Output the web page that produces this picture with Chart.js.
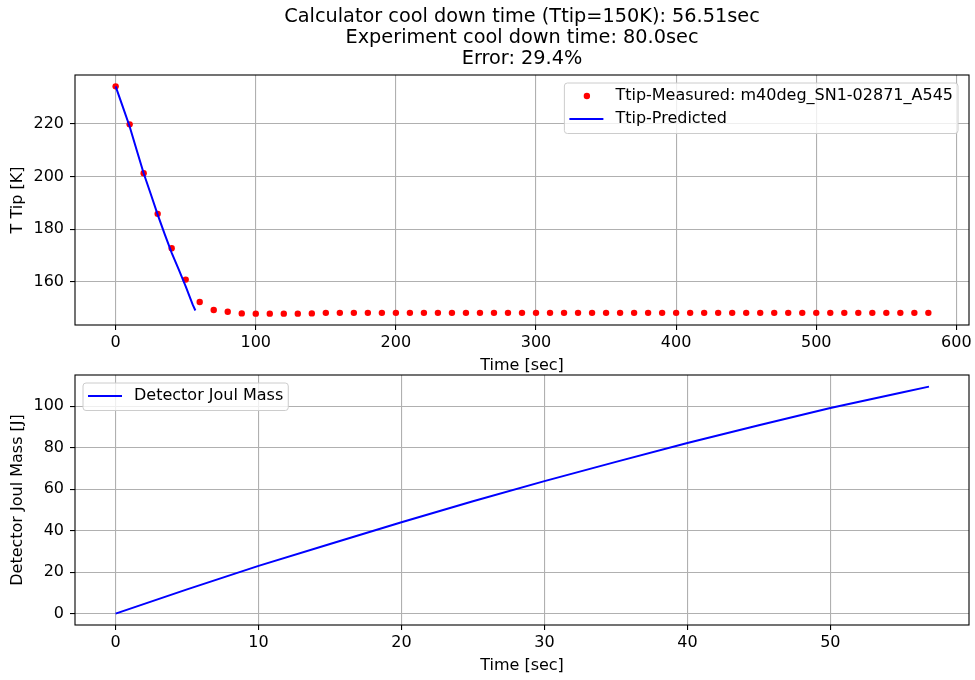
<!DOCTYPE html>
<html>
<head>
<meta charset="utf-8">
<title>Cool down</title>
<script src="https://cdn.jsdelivr.net/npm/chart.js@4.4.0/dist/chart.umd.min.js"></script>
<style>
  html, body { margin: 0; padding: 0; background: #fff; }
  #page { position: relative; width: 975px; height: 680px; overflow: hidden; }
  .panel { position: absolute; left: 0; width: 975px; }
  #top-panel { top: 0; height: 378px; }
  #bottom-panel { top: 325px; height: 355px; }
</style>
</head>
<body>
<div id="page">
  <div class="panel" id="top-panel"><canvas id="tipChart"></canvas></div>
  <div class="panel" id="bottom-panel"><canvas id="joulChart"></canvas></div>
</div>
<script>
// --- data ---
const titleLines = [
  "Calculator cool down time (Ttip=150K): 56.51sec",
  "Experiment cool down time: 80.0sec",
  "Error: 29.4%",
];

const measuredLabel = "Ttip-Measured: m40deg_SN1-02871_A545";
const measuredTime = [
  0, 10, 20, 30, 40, 50, 60, 70, 80, 90, 100, 110, 120, 130, 140,
  150, 160, 170, 180, 190, 200, 210, 220, 230, 240, 250, 260, 270, 280, 290,
  300, 310, 320, 330, 340, 350, 360, 370, 380, 390, 400, 410, 420, 430, 440,
  450, 460, 470, 480, 490, 500, 510, 520, 530, 540, 550, 560, 570, 580,
];
const measuredTemp = [
  234.1, 219.7, 201.2, 185.8, 172.8, 160.9, 152.4, 149.4, 148.7, 148.1, 148.0, 148.0, 148.0, 148.0, 148.1,
  148.3, 148.3, 148.3, 148.3, 148.3, 148.3, 148.3, 148.3, 148.3, 148.3, 148.3, 148.3, 148.3, 148.3, 148.3,
  148.3, 148.3, 148.3, 148.3, 148.3, 148.3, 148.3, 148.3, 148.3, 148.3, 148.3, 148.3, 148.3, 148.3, 148.3,
  148.3, 148.3, 148.3, 148.3, 148.3, 148.3, 148.3, 148.3, 148.3, 148.3, 148.3, 148.3, 148.3, 148.3,
];

const predictedLabel = "Ttip-Predicted";
const predictedTime = [0, 5, 10, 15, 20, 25, 30, 35, 40, 45, 50, 55, 56.9];
const predictedTemp = [234.1, 226.5, 218.9, 210.0, 201.2, 193.4, 185.5, 178.1, 171.0, 164.8, 158.3, 151.4, 149.2];

const joulLabel = "Detector Joul Mass";
const joulTime = [0, 5, 10, 15, 20, 25, 30, 35, 40, 45, 50, 55, 56.9];
const joulMass = [0, 11.7, 23.0, 33.6, 44.1, 54.2, 63.9, 73.2, 82.3, 90.9, 99.2, 106.7, 109.5];

const tipXTicks = [0, 100, 200, 300, 400, 500, 600];
const tipYTicks = [160, 180, 200, 220];
const joulXTicks = [0, 10, 20, 30, 40, 50];
const joulYTicks = [0, 20, 40, 60, 80, 100];

// --- look ---
const FONT = "DejaVu Sans";
const FONT_SIZE = 16;
const tickFont = { family: FONT, size: FONT_SIZE, lineHeight: 1.2 };

const toPoints = (xs, ys) => xs.map((x, i) => ({ x: x, y: ys[i] }));

// frame round the plot area, like matplotlib spines
const framePlugin = {
  id: "frame",
  afterDatasetsDraw(chart) {
    const { ctx, chartArea: a } = chart;
    ctx.save();
    ctx.strokeStyle = "#000";
    ctx.lineWidth = 1.1;
    ctx.strokeRect(a.left, a.top, a.right - a.left, a.bottom - a.top);
    ctx.restore();
  },
};

// legend drawn inside the plot area
const boxLegendPlugin = {
  id: "boxLegend",
  afterDraw(chart, args, opts) {
    if (!opts.items) return;
    const { ctx, chartArea: a } = chart;
    ctx.save();
    ctx.font = `${FONT_SIZE}px "${FONT}"`;
    const labels = opts.items.map((it) => chart.data.datasets[it.dataset].label);
    const textW = Math.max(...labels.map((l) => ctx.measureText(l).width));
    const w = 5 + 46 + textW + 5;
    const h = 27.5 + 23 * (opts.items.length - 1);
    const x = opts.corner === "ne" ? a.right - 11 - w : a.left + 8;
    const y = a.top + 8;

    ctx.beginPath();
    ctx.roundRect(x, y, w, h, 3);
    ctx.fillStyle = "rgba(255,255,255,0.8)";
    ctx.fill();
    ctx.strokeStyle = "#cccccc";
    ctx.lineWidth = 1;
    ctx.stroke();

    opts.items.forEach((it, i) => {
      const ds = chart.data.datasets[it.dataset];
      const cy = y + 13 + 23 * i;
      if (it.kind === "point") {
        ctx.beginPath();
        ctx.arc(x + 22.5, cy, 3.2, 0, Math.PI * 2);
        ctx.fillStyle = ds.backgroundColor;
        ctx.fill();
      } else {
        ctx.beginPath();
        ctx.moveTo(x + 5, cy);
        ctx.lineTo(x + 39, cy);
        ctx.strokeStyle = ds.borderColor;
        ctx.lineWidth = 2;
        ctx.stroke();
      }
      ctx.fillStyle = "#000";
      ctx.textBaseline = "middle";
      ctx.textAlign = "left";
      ctx.fillText(labels[i], x + 51, cy);
    });
    ctx.restore();
  },
};

function axis(min, max, ticks, title, isX) {
  return {
    type: "linear",
    min: min,
    max: max,
    afterBuildTicks: (scale) => {
      scale.ticks = ticks.map((v) => ({ value: v }));
    },
    afterFit: (scale) => {
      if (isX) scale.height = 53;
      else scale.width = 75;
    },
    grid: {
      color: "#b0b0b0",
      lineWidth: 1.1,
      tickLength: 5,
      tickColor: "#000",
      tickWidth: 1.1,
    },
    border: { display: false },
    ticks: {
      color: "#000",
      font: tickFont,
      padding: isX ? 3 : 6,
      maxRotation: 0,
      autoSkip: false,
      callback: (v) => String(v),
    },
    title: {
      display: true,
      text: title,
      color: "#000",
      font: tickFont,
      padding: isX ? { top: 0, bottom: 3 } : { top: 8, bottom: 0 },
    },
  };
}

const baseOptions = {
  responsive: true,
  maintainAspectRatio: false,
  animation: false,
  events: [],
};

new Chart(document.getElementById("tipChart"), {
  type: "scatter",
  data: {
    datasets: [
      {
        label: predictedLabel,
        data: toPoints(predictedTime, predictedTemp),
        showLine: true,
        borderColor: "#0000ff",
        borderWidth: 2,
        pointRadius: 0,
        tension: 0,
        order: 0,
      },
      {
        label: measuredLabel,
        data: toPoints(measuredTime, measuredTemp),
        backgroundColor: "#ff0000",
        borderWidth: 0,
        pointRadius: 3.2,
        order: 1,
      },
    ],
  },
  options: {
    ...baseOptions,
    layout: { padding: { left: 0, right: 6, top: 0, bottom: 0 } },
    scales: {
      x: axis(-29, 609, tipXTicks, "Time [sec]", true),
      y: axis(143.7, 238.4, tipYTicks, "T Tip [K]", false),
    },
    plugins: {
      legend: { display: false },
      tooltip: { enabled: false },
      title: {
        display: true,
        text: titleLines,
        fullSize: false,
        color: "#000",
        font: { family: FONT, size: 19.3, weight: "normal", lineHeight: "21px" },
        padding: { top: 6.5, bottom: 5.5 },
      },
      boxLegend: {
        corner: "ne",
        items: [
          { dataset: 1, kind: "point" },
          { dataset: 0, kind: "line" },
        ],
      },
    },
  },
  plugins: [framePlugin, boxLegendPlugin],
});

new Chart(document.getElementById("joulChart"), {
  type: "scatter",
  data: {
    datasets: [
      {
        label: joulLabel,
        data: toPoints(joulTime, joulMass),
        showLine: true,
        borderColor: "#0000ff",
        borderWidth: 2,
        pointRadius: 0,
        tension: 0,
      },
    ],
  },
  options: {
    ...baseOptions,
    layout: { padding: { left: 0, right: 6, top: 50, bottom: 2 } },
    scales: {
      x: axis(-2.84, 59.7, joulXTicks, "Time [sec]", true),
      y: axis(-5.5, 115.1, joulYTicks, "Detector Joul Mass [J]", false),
    },
    plugins: {
      legend: { display: false },
      tooltip: { enabled: false },
      boxLegend: {
        corner: "nw",
        items: [{ dataset: 0, kind: "line" }],
      },
    },
  },
  plugins: [framePlugin, boxLegendPlugin],
});
</script>
</body>
</html>
